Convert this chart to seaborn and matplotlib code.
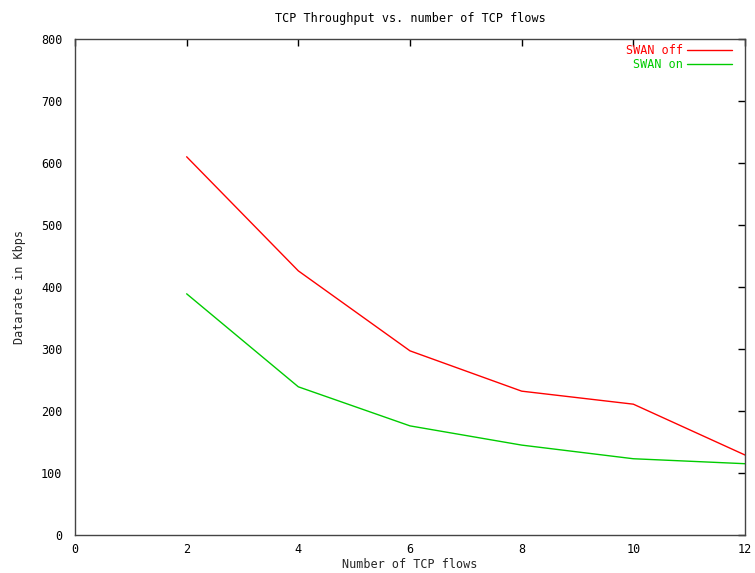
import numpy as np
import pandas as pd
import matplotlib
matplotlib.use("Agg")
import matplotlib.pyplot as plt
import seaborn as sns

flows = [2, 4, 6, 8, 10, 12]
swan_off = [610, 426, 297, 232, 211, 129]
swan_on = [389, 239, 176, 145, 123, 115]

df = pd.DataFrame({
    "flows": flows * 2,
    "rate": swan_off + swan_on,
    "serie": ["SWAN off"] * len(flows) + ["SWAN on"] * len(flows),
})

sns.set_style("white")
plt.rcParams['font.family'] = ['DejaVu Sans Mono']

fig = plt.figure(figsize=(7.55, 5.73), dpi=100)
ax = fig.add_axes([0.0993, 0.0663, 0.8875, 0.8657])

sns.lineplot(data=df, x="flows", y="rate", hue="serie",
             palette={"SWAN off": "#ff0000", "SWAN on": "#00cc00"},
             linewidth=1, ax=ax)

ax.set_xlim(0, 12)
ax.set_ylim(0, 800)
ax.set_xticks(range(0, 13, 2))
ax.set_yticks(range(0, 801, 100))
ax.tick_params(direction='in', length=5, width=1, top=True, right=True,
               labelsize=8.5, colors='black', pad=9)
ax.tick_params(axis='x', pad=6)
for s in ax.spines.values():
    s.set_color('#444444')
    s.set_linewidth(1)

ax.set_title('TCP Throughput vs. number of TCP flows', fontsize=8.5, pad=12, color='black')
ax.set_xlabel('Number of TCP flows', fontsize=8.5, labelpad=1)
ax.set_ylabel('Datarate in Kbps', fontsize=8.5, labelpad=11)

leg = ax.legend(loc='upper right', frameon=False, markerfirst=False,
                fontsize=8.5, handlelength=3.8, handletextpad=0.4,
                labelspacing=0.15, borderaxespad=0.1, borderpad=0.3,
                bbox_to_anchor=(0.988, 1.0), title=None)
for txt, col in zip(leg.get_texts(), ["#ff0000", "#00cc00"]):
    txt.set_color(col)

fig.savefig('out.png', dpi=100)
